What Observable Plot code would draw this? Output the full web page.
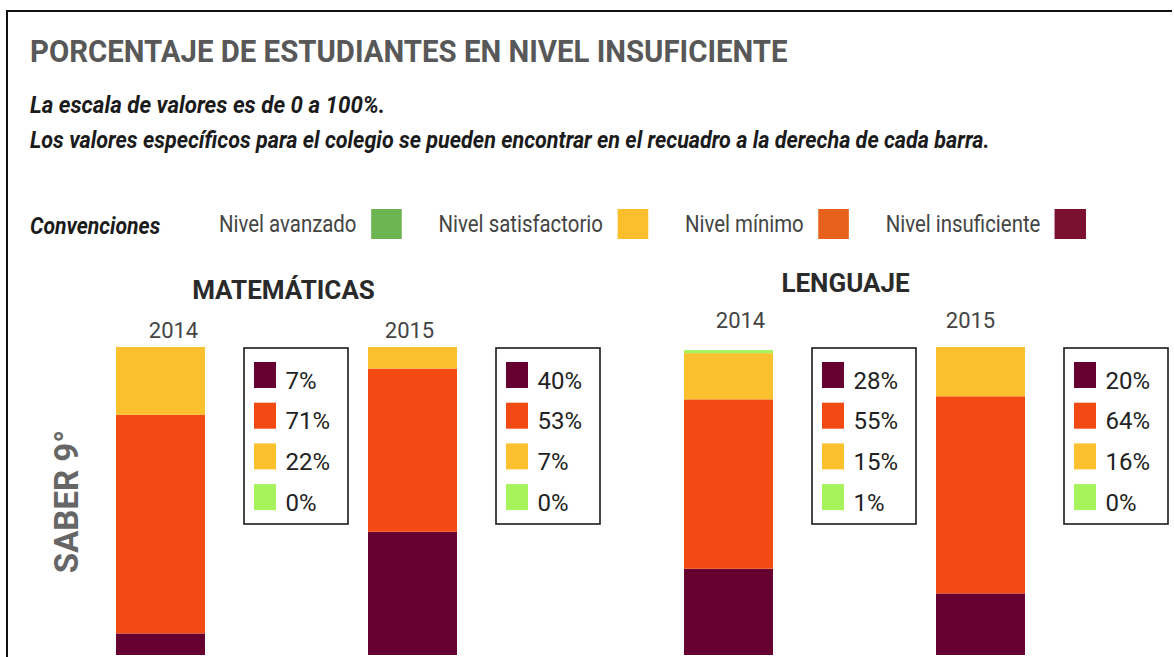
<!DOCTYPE html>
<html>
<head>
<meta charset="utf-8">
<script src="https://cdn.jsdelivr.net/npm/d3@7"></script>
<script src="https://cdn.jsdelivr.net/npm/@observablehq/plot@0.6"></script>
<style>
  body { margin: 0; background: #fff; }
  #page { position: relative; width: 1174px; height: 657px; overflow: hidden; background: #fff;
          font-family: Roboto, "Liberation Sans", sans-serif; }
  .frame { position: absolute; left: 6px; top: 10px; width: 1164px; height: 660px;
           border-top: 2px solid #111; border-left: 2px solid #111; }
  .t { position: absolute; line-height: 1; white-space: nowrap; transform-origin: 0 50%; }
  #title { left: 30px; top: 35px; font-size: 32px; font-weight: bold; color: #585858; transform: scaleX(0.918); }
  .sub { left: 30px; font-size: 23px; font-weight: bold; font-style: italic; color: #1b1b1b; }
  #conv { left: 30px; top: 215px; font-size: 23px; font-weight: bold; font-style: italic; color: #1b1b1b; transform: scaleX(0.92); }
  #legend { position: absolute; left: 219px; top: 208px; height: 31px; display: flex; align-items: center;
            transform: scaleX(0.85); transform-origin: 0 50%; }
  .item { display: flex; align-items: center; margin-right: 43px; }
  .item span { font-size: 24px; line-height: 1; color: #444; white-space: nowrap; }
  .sw { width: 36.5px; height: 30px; margin-left: 17px; }
  .chart { position: absolute; top: 260px; }
</style>
</head>
<body>
<div id="page">
  <div class="frame"></div>
  <div class="t" id="title">PORCENTAJE DE ESTUDIANTES EN NIVEL INSUFICIENTE</div>
  <div class="t sub" style="top:94px; transform: scaleX(0.97)">La escala de valores es de 0 a 100%.</div>
  <div class="t sub" style="top:129px; transform: scaleX(0.937)">Los valores específicos para el colegio se pueden encontrar en el recuadro a la derecha de cada barra.</div>
  <div class="t" id="conv">Convenciones</div>
  <div id="legend"></div>
  <div class="chart" id="mat" style="left:0px"></div>
  <div class="chart" id="len" style="left:568px"></div>
</div>
<script>
// Levels, stacked from the bottom of each bar upwards
const levels = ["Nivel insuficiente", "Nivel mínimo", "Nivel satisfactorio", "Nivel avanzado"];
const years = ["2014", "2015"];
const subjects = ["MATEMÁTICAS", "LENGUAJE"];
const sideLabel = "SABER 9°";

// Percentages per level (insuficiente, mínimo, satisfactorio, avanzado)
const matematicas2014 = [7, 71, 22, 0];
const matematicas2015 = [40, 53, 7, 0];
const lenguaje2014 = [28, 55, 15, 1];
const lenguaje2015 = [20, 64, 16, 0];

const barColors = ["#650030", "#f24a12", "#fcc12e", "#a6f35c"];
const legendColors = ["#7c1030", "#e8611c", "#fbbe2c", "#6fb453"];

// Header legend ("Convenciones"), shown from avanzado to insuficiente
const legend = document.getElementById("legend");
levels.slice().reverse().forEach((lv) => {
  const i = levels.indexOf(lv);
  const item = document.createElement("div");
  item.className = "item";
  const s = document.createElement("span");
  s.textContent = lv;
  const sw = document.createElement("div");
  sw.className = "sw";
  sw.style.background = legendColors[i];
  item.append(s, sw);
  legend.append(item);
});

const FONT = 'Roboto, "Liberation Sans", sans-serif';

function chart(subject, values, opt) {
  const rows = years.flatMap((year, j) =>
    levels.map((level, i) => ({ year, level, i, value: values[j][i] })));
  const marks = [
    Plot.barY(rows, { x: "year", y: "value", fill: "level" }),
    // value boxes to the right of each bar
    Plot.barY(years, { x: (d) => d, y1: 100, y2: 100, dx: 128, insetTop: 1, insetBottom: -177,
      insetRight: -15, fill: "white", stroke: "#1a1a1a", strokeWidth: 1.6 }),
    ...levels.map((level, i) => Plot.barY(rows.filter((r) => r.level === level), {
      x: "year", y1: 100, y2: 100, fill: "level", dx: 138,
      insetTop: 15 + 40.7 * i, insetBottom: -(41 + 40.7 * i), insetRight: 67 })),
    ...levels.map((level, i) => Plot.text(rows.filter((r) => r.level === level), {
      x: "year", frameAnchor: "top", text: (d) => `${d.value}%`, textAnchor: "start",
      lineAnchor: "bottom", dx: 124.5, dy: 41 + 40.7 * i, fontSize: 24, fill: "#222" })),
    // subject title
    Plot.text([subject], { frameAnchor: "top", dx: opt.titleDx, dy: opt.titleDy,
      lineAnchor: "bottom", fontSize: 26, fontWeight: "bold", fill: "#2a2a2a" }),
    // year labels
    ...years.map((y, j) => Plot.text([y], { x: (d) => d, frameAnchor: "top", text: (d) => d,
      lineAnchor: "bottom", dx: opt.yearDx[j], dy: opt.yearDy, fontSize: 22, fill: "#444" }))
  ];
  if (opt.side) {
    marks.push(Plot.text([sideLabel], { frameAnchor: "left", textAnchor: "middle", lineAnchor: "middle",
      rotate: -90, dx: -49, fontSize: 33, fontWeight: "bold", fill: "#666" }));
  }
  return Plot.plot({
    width: opt.width, height: 397,
    marginLeft: 116, marginRight: opt.width - 458, marginTop: 87, marginBottom: 2,
    x: { domain: years, paddingInner: 0.648, paddingOuter: 0, align: 0, axis: null },
    y: { domain: [0, 100], axis: null },
    color: { domain: levels, range: barColors },
    style: { fontFamily: FONT, background: "transparent", overflow: "visible" },
    marks
  });
}

document.getElementById("mat").append(chart(subjects[0], [matematicas2014, matematicas2015],
  { width: 568, titleDx: -4, titleDy: -49, yearDx: [12.5, -3.5], yearDy: -10, side: true }));
document.getElementById("len").append(chart(subjects[1], [lenguaje2014, lenguaje2015],
  { width: 606, titleDx: -10, titleDy: -56, yearDx: [11.5, -10.5], yearDy: -20, side: false }));
</script>
</body>
</html>
